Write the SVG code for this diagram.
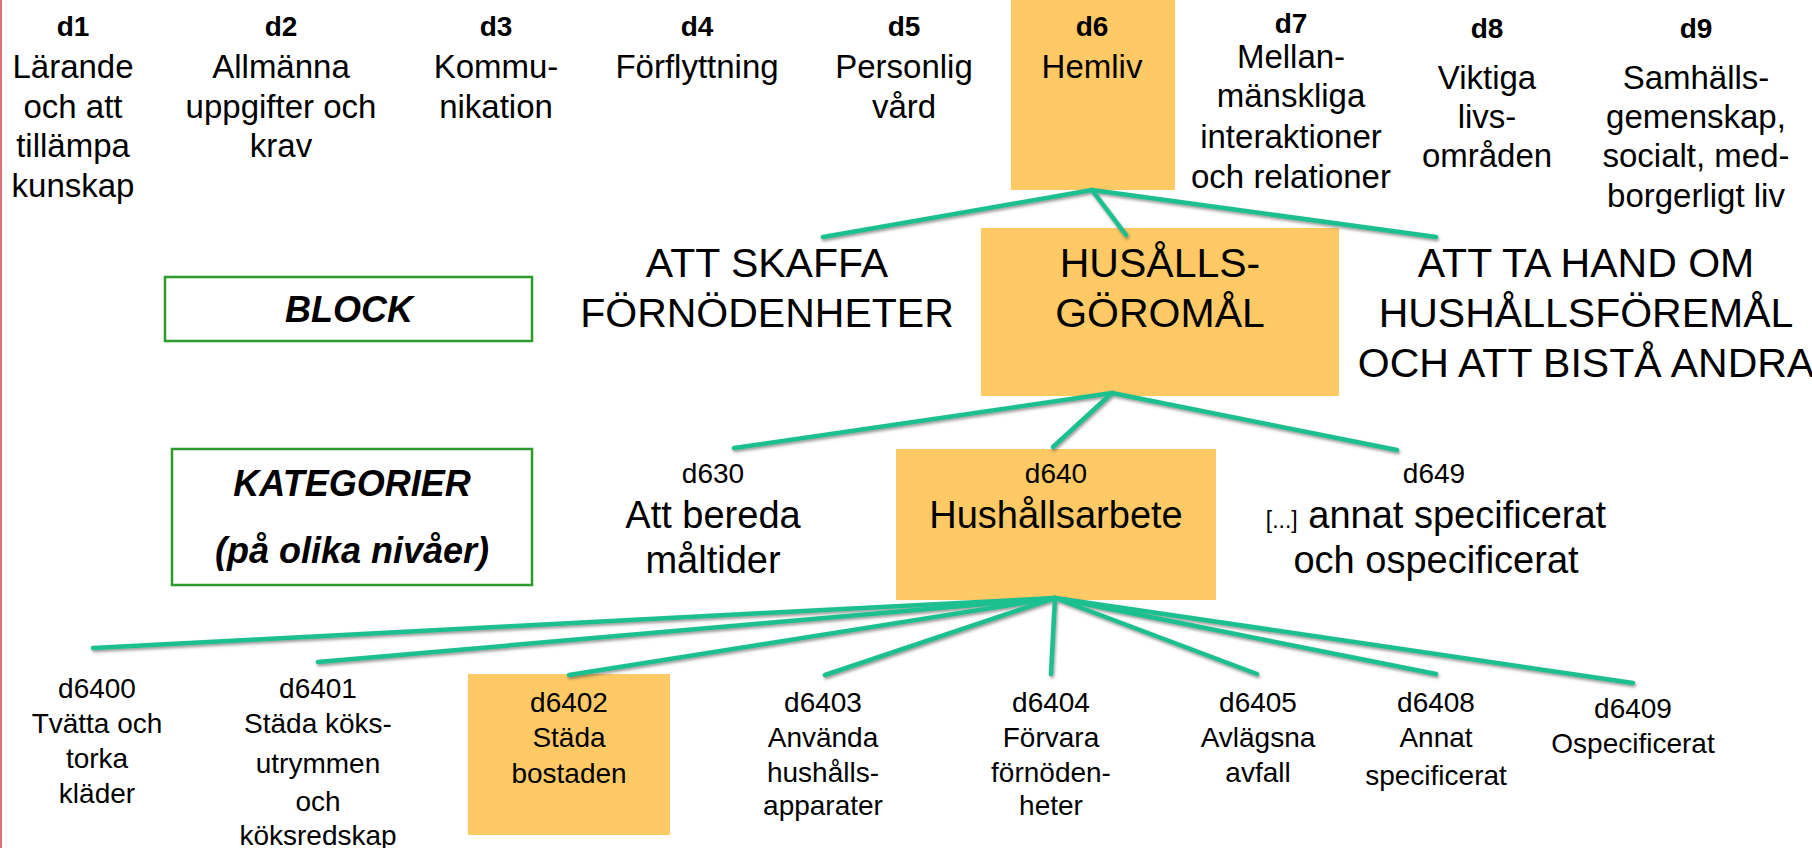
<svg xmlns="http://www.w3.org/2000/svg" width="1812" height="848" viewBox="0 0 1812 848">
<defs>
<style>
.t{font-family:"Liberation Sans",Arial,sans-serif;fill:#000;text-anchor:middle}
.top{font-size:33px}
.topb{font-size:28px;font-weight:bold}
.blk{font-size:41px}
.cat{font-size:28px}
.catn{font-size:38px}
.sub{font-size:28px}
.lbl{font-size:36px;font-weight:bold;font-style:italic}
.box{fill:#FFC965}
.gbox{fill:none;stroke:#2E9A2E;stroke-width:2.5}
.con{stroke:#1DBF8F;stroke-width:4.5;stroke-linecap:round;fill:none}
</style>
<filter id="sh" x="-5%" y="-50%" width="110%" height="200%">
<feDropShadow dx="1" dy="2" stdDeviation="1.5" flood-color="#444" flood-opacity="0.55"/>
</filter>
</defs>
<rect x="0" y="0" width="1812" height="848" fill="#fff"/>
<line x1="1" y1="0" x2="1" y2="848" stroke="#E07070" stroke-width="2"/>

<g id="d1"><text class="t topb" x="73" y="36">d1</text><text class="t top" x="73"><tspan x="73" y="78">Lärande</tspan><tspan x="73" y="118">och att</tspan><tspan x="73" y="157">tillämpa</tspan><tspan x="73" y="197">kunskap</tspan></text></g>
<g id="d2"><text class="t topb" x="281" y="36">d2</text><text class="t top"><tspan x="281" y="78">Allmänna</tspan><tspan x="281" y="118">uppgifter och</tspan><tspan x="281" y="157">krav</tspan></text></g>
<g id="d3"><text class="t topb" x="496" y="36">d3</text><text class="t top"><tspan x="496" y="78">Kommu-</tspan><tspan x="496" y="118">nikation</tspan></text></g>
<g id="d4"><text class="t topb" x="697" y="36">d4</text><text class="t top"><tspan x="697" y="78">Förflyttning</tspan></text></g>
<g id="d5"><text class="t topb" x="904" y="36">d5</text><text class="t top"><tspan x="904" y="78">Personlig</tspan><tspan x="904" y="118">vård</tspan></text></g>
<g id="d6"><rect class="box" x="1011" y="0" width="164" height="190"/><text class="t topb" x="1092" y="36">d6</text><text class="t top"><tspan x="1092" y="78">Hemliv</tspan></text></g>
<g id="d7"><text class="t topb" x="1291" y="33">d7</text><text class="t top"><tspan x="1291" y="68">Mellan-</tspan><tspan x="1291" y="107">mänskliga</tspan><tspan x="1291" y="148">interaktioner</tspan><tspan x="1291" y="188">och relationer</tspan></text></g>
<g id="d8"><text class="t topb" x="1487" y="38">d8</text><text class="t top"><tspan x="1487" y="89">Viktiga</tspan><tspan x="1487" y="128">livs-</tspan><tspan x="1487" y="167">områden</tspan></text></g>
<g id="d9"><text class="t topb" x="1696" y="38">d9</text><text class="t top"><tspan x="1696" y="89">Samhälls-</tspan><tspan x="1696" y="128">gemenskap,</tspan><tspan x="1696" y="167">socialt, med-</tspan><tspan x="1696" y="207">borgerligt liv</tspan></text></g>

<g id="label-block"><rect class="gbox" x="165" y="277" width="367" height="64"/><text class="t lbl" x="349" y="322">BLOCK</text></g>
<g id="label-kategorier"><rect class="gbox" x="172" y="449" width="360" height="136"/><text class="t lbl"><tspan x="352" y="496">KATEGORIER</tspan><tspan x="352" y="563">(på olika nivåer)</tspan></text></g>

<g id="block-skaffa"><text class="t blk"><tspan x="767" y="277">ATT SKAFFA</tspan><tspan x="767" y="327">FÖRNÖDENHETER</tspan></text></g>
<g id="block-husall"><rect class="box" x="981" y="228" width="358" height="168"/><text class="t blk"><tspan x="1160" y="277">HUSÅLLS-</tspan><tspan x="1160" y="327">GÖROMÅL</tspan></text></g>
<g id="block-tahand"><text class="t blk"><tspan x="1586" y="277">ATT TA HAND OM</tspan><tspan x="1586" y="327">HUSHÅLLSFÖREMÅL</tspan><tspan x="1586" y="377">OCH ATT BISTÅ ANDRA</tspan></text></g>

<g id="d630"><text class="t cat" x="713" y="483">d630</text><text class="t catn"><tspan x="713" y="528">Att bereda</tspan><tspan x="713" y="573">måltider</tspan></text></g>
<g id="d640"><rect class="box" x="896" y="449" width="320" height="151"/><text class="t cat" x="1056" y="483">d640</text><text class="t catn"><tspan x="1056" y="528">Hushållsarbete</tspan></text></g>
<g id="d649"><text class="t cat" x="1434" y="483">d649</text><text class="t catn"><tspan x="1436" y="528"><tspan style="font-size:23px">[...]</tspan> annat specificerat</tspan><tspan x="1436" y="573">och ospecificerat</tspan></text></g>

<g id="d6400"><text class="t sub"><tspan x="97" y="698">d6400</tspan><tspan x="97" y="733">Tvätta och</tspan><tspan x="97" y="768">torka</tspan><tspan x="97" y="803">kläder</tspan></text></g>
<g id="d6401"><text class="t sub"><tspan x="318" y="698">d6401</tspan><tspan x="318" y="733">Städa köks-</tspan><tspan x="318" y="773">utrymmen</tspan><tspan x="318" y="811">och</tspan><tspan x="318" y="845">köksredskap</tspan></text></g>
<g id="d6402"><rect class="box" x="468" y="674" width="202" height="161"/><text class="t sub"><tspan x="569" y="712">d6402</tspan><tspan x="569" y="747">Städa</tspan><tspan x="569" y="783">bostaden</tspan></text></g>
<g id="d6403"><text class="t sub"><tspan x="823" y="712">d6403</tspan><tspan x="823" y="747">Använda</tspan><tspan x="823" y="782">hushålls-</tspan><tspan x="823" y="815">apparater</tspan></text></g>
<g id="d6404"><text class="t sub"><tspan x="1051" y="712">d6404</tspan><tspan x="1051" y="747">Förvara</tspan><tspan x="1051" y="782">förnöden-</tspan><tspan x="1051" y="815">heter</tspan></text></g>
<g id="d6405"><text class="t sub"><tspan x="1258" y="712">d6405</tspan><tspan x="1258" y="747">Avlägsna</tspan><tspan x="1258" y="782">avfall</tspan></text></g>
<g id="d6408"><text class="t sub"><tspan x="1436" y="712">d6408</tspan><tspan x="1436" y="747">Annat</tspan><tspan x="1436" y="785">specificerat</tspan></text></g>
<g id="d6409"><text class="t sub"><tspan x="1633" y="718">d6409</tspan><tspan x="1633" y="753">Ospecificerat</tspan></text></g>

<g id="connectors" class="con" filter="url(#sh)">
<line x1="1092" y1="190" x2="823" y2="237"/>
<line x1="1092" y1="190" x2="1126" y2="235"/>
<line x1="1092" y1="190" x2="1436" y2="237"/>
<line x1="1112" y1="393" x2="734" y2="448"/>
<line x1="1112" y1="393" x2="1053" y2="447"/>
<line x1="1112" y1="393" x2="1397" y2="450"/>
<line x1="1055" y1="598" x2="93" y2="648"/>
<line x1="1055" y1="598" x2="318" y2="662"/>
<line x1="1055" y1="598" x2="569" y2="675"/>
<line x1="1055" y1="598" x2="825" y2="675"/>
<line x1="1055" y1="598" x2="1051" y2="674"/>
<line x1="1055" y1="598" x2="1257" y2="674"/>
<line x1="1055" y1="598" x2="1436" y2="674"/>
<line x1="1055" y1="598" x2="1633" y2="683"/>
</g>
</svg>
